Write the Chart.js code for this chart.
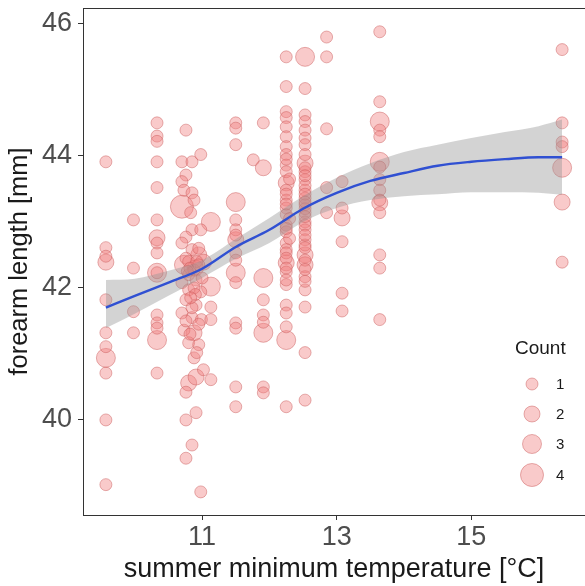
<!DOCTYPE html>
<html><head><meta charset="utf-8">
<script src="https://cdn.jsdelivr.net/npm/chart.js@4.4.1/dist/chart.umd.min.js"></script>
<style>html,body{margin:0;padding:0;background:#fff;}canvas{display:block;}</style>
</head><body>
<canvas id="c" width="585" height="586"></canvas>
<script>
// ---- data ----
const xTicks = [11, 13, 15];
const yTicks = [40, 42, 44, 46];
const counts = [1, 2, 3, 4];

// points with Count = 1  [temperature, forearm]
const count1 = [
  [9.57,43.91],[9.57,42.61],[9.57,42.48],[9.57,41.82],[9.57,41.32],[9.57,41.11],[9.57,40.71],[9.57,40.00],[9.57,39.02],
  [9.98,43.03],[9.98,42.30],[9.98,41.64],[9.98,41.32],
  [10.33,44.50],[10.33,44.30],[10.33,44.22],[10.33,43.91],[10.33,43.52],[10.33,43.03],[10.33,42.68],[10.33,42.53],[10.33,42.23],[10.33,41.59],[10.33,41.47],[10.33,41.39],[10.33,40.71],
  [10.76,44.39],[10.70,43.91],[10.85,43.91],[10.98,44.02],[10.76,43.71],[10.70,43.61],[10.73,43.48],[10.85,43.44],[10.88,43.33],[10.83,43.14],
  [10.85,42.88],[10.98,42.88],[10.76,42.77],[10.70,42.68],[10.85,42.58],[10.88,42.27],[10.70,42.08],[10.80,41.97],[10.98,41.94],[10.76,41.82],
  [10.91,41.74],[10.70,41.62],[10.85,41.55],[10.99,41.52],[10.73,41.36],[10.80,41.17],[10.95,41.14],[10.88,40.94],[11.02,40.76],[11.13,40.61],
  [10.76,40.42],[10.91,40.11],[10.76,40.00],[10.85,39.62],[10.76,39.42],[10.98,38.91],
  [10.80,42.20],[10.91,42.12],[10.76,42.45],[10.85,41.70],[10.76,41.50],[10.95,41.45],[10.82,41.30],[10.92,41.02],[10.95,42.60],[10.80,42.40],[10.88,42.00],[11.00,42.15],
  [10.82,42.30],[10.92,42.40],[10.78,42.25],[10.90,41.90],[10.83,41.85],[10.95,42.35],
  [11.13,41.71],[11.13,41.52],
  [11.50,44.50],[11.50,44.42],[11.50,44.17],[11.50,43.03],[11.50,42.88],[11.50,42.80],[11.50,42.53],[11.50,42.42],[11.50,42.08],[11.50,41.47],[11.50,41.39],[11.50,40.50],[11.50,40.20],
  [11.76,43.94],
  [11.91,44.50],[11.91,41.82],[11.91,41.59],[11.91,41.48],[11.91,40.50],[11.91,40.41],
  [12.25,45.50],[12.25,45.05],[12.25,44.67],[12.25,44.58],[12.25,44.44],[12.25,44.29],[12.25,44.14],[12.25,44.02],[12.25,43.86],[12.25,43.76],
  [12.25,43.48],[12.25,43.33],[12.25,43.21],[12.25,43.11],[12.25,42.95],[12.25,42.85],[12.25,42.68],[12.25,42.58],[12.25,42.53],[12.25,42.24],
  [12.25,42.05],[12.25,41.74],[12.25,41.62],[12.25,41.41],[12.25,40.20],[12.30,43.65],[12.30,42.75],[12.30,43.05],
  [12.25,43.95],[12.25,43.42],[12.25,43.27],[12.25,42.90],[12.25,42.45],[12.25,42.30],[12.25,42.12],
  [12.53,45.02],[12.53,44.62],[12.53,44.52],[12.53,44.39],[12.53,44.27],[12.53,44.17],[12.53,44.02],[12.53,43.76],[12.53,43.64],[12.53,43.48],
  [12.53,43.36],[12.53,43.26],[12.53,43.14],[12.53,43.00],[12.53,42.88],[12.53,42.73],[12.53,42.65],[12.53,42.61],[12.53,42.17],[12.53,41.97],
  [12.53,41.71],[12.53,41.02],[12.53,40.30],[12.53,43.20],[12.53,42.95],[12.53,43.55],
  [12.53,43.82],[12.53,43.70],[12.53,43.42],[12.53,43.30],[12.53,43.08],[12.53,42.80],[12.53,42.42],[12.53,42.28],[12.53,42.10],
  [12.85,45.80],[12.85,45.50],[12.85,44.41],[12.85,43.52],[12.85,43.14],
  [13.08,43.61],[13.08,43.21],[13.08,42.70],[13.08,41.92],[13.08,41.65],
  [13.64,45.88],[13.64,44.82],[13.64,44.39],[13.64,44.29],[13.64,43.83],[13.64,43.64],[13.64,43.48],[13.64,43.33],[13.64,43.14],[13.64,42.50],[13.64,42.30],[13.64,41.52],
  [16.35,45.61],[16.35,44.50],[16.35,44.21],[16.35,44.14],[16.35,42.39]
];
// Count = 2
const count2 = [
  [9.57,42.39],[10.33,42.76],[10.95,42.50],[11.02,42.39],[10.88,41.32],[10.80,40.56],[10.91,40.65],[10.90,42.30],
  [11.50,42.73],[11.91,43.82],[12.25,43.59],[12.25,42.38],[12.53,43.89],[12.53,42.50],[12.53,42.35],
  [13.08,43.06],[13.64,43.29],[16.35,43.30]
];
// Count = 3
const count3 = [
  [9.57,40.94],[10.33,42.23],[10.33,41.21],[10.73,42.35],[11.13,43.00],[11.13,42.02],[11.50,43.30],[11.50,42.23],
  [11.91,42.15],[11.91,41.32],[12.25,41.21],[12.53,45.50],[13.64,44.52],[13.64,43.91],[16.35,43.82]
];
// Count = 4
const count4 = [
  [10.70,43.23]
];

// loess fit with confidence band
const smoothX    = [9.57, 10.0, 10.5, 11.0, 11.5, 12.0, 12.5, 13.0, 13.5, 14.0, 14.5, 15.0, 15.5, 16.0, 16.35];
const smoothY    = [41.70,41.88,42.08,42.29,42.62,42.88,43.20,43.44,43.62,43.74,43.85,43.91,43.95,43.98,43.98];
const smoothLow  = [41.39,41.61,41.88,42.15,42.44,42.68,43.00,43.21,43.33,43.39,43.42,43.45,43.45,43.44,43.41];
const smoothHigh = [42.12,42.14,42.26,42.42,42.74,43.06,43.39,43.67,43.89,44.06,44.17,44.27,44.36,44.45,44.55];

// ---- styles ----
const FONT = "'Liberation Sans', Arial, Helvetica, sans-serif";
const radiusForCount = {1: 6, 2: 8, 3: 9.5, 4: 11.5};
const ptFill = 'rgba(240,128,128,0.42)';
const ptBorder = 'rgba(200,85,85,0.45)';

const toXY = arr => arr.map(([x, y]) => ({x, y}));
const pairs = (xs, ys) => xs.map((x, i) => ({x, y: ys[i]}));
const pointSets = [count1, count2, count3, count4];

const datasets = [
  {type:'line', label:'fit', xAxisID:'x', yAxisID:'y', data: pairs(smoothX, smoothY),
   borderColor:'#3050d2', borderWidth:2.4, pointRadius:0, fill:false, cubicInterpolationMode:'monotone', order:0},
  {type:'line', label:'low', xAxisID:'x', yAxisID:'y', data: pairs(smoothX, smoothLow),
   borderColor:'rgba(0,0,0,0)', borderWidth:0, pointRadius:0, fill:false, cubicInterpolationMode:'monotone', order:1},
  {type:'line', label:'high', xAxisID:'x', yAxisID:'y', data: pairs(smoothX, smoothHigh),
   borderColor:'rgba(0,0,0,0)', borderWidth:0, pointRadius:0, fill:'-1', backgroundColor:'rgba(150,150,150,0.42)', cubicInterpolationMode:'monotone', order:1}
];
pointSets.forEach((set, i) => {
  datasets.push({type:'scatter', label:'Count ' + counts[i], xAxisID:'x', yAxisID:'y', data: toXY(set),
    pointRadius: radiusForCount[counts[i]], pointHoverRadius: radiusForCount[counts[i]],
    backgroundColor: ptFill, borderColor: ptBorder, borderWidth: 1, order: 2 + i});
});

const legendPlugin = {
  id: 'countLegend',
  afterDraw(chart) {
    const ctx = chart.ctx;
    ctx.save();
    ctx.textAlign = 'left';
    ctx.textBaseline = 'middle';
    ctx.fillStyle = '#1a1a1a';
    ctx.font = '19px ' + FONT;
    ctx.fillText('Count', 515, 349);
    const ys = [384, 414, 444, 475];
    counts.forEach((c, i) => {
      const ds = chart.data.datasets[3 + i];
      ctx.beginPath();
      ctx.arc(532, ys[i], radiusForCount[c], 0, Math.PI * 2);
      ctx.fillStyle = ds.backgroundColor; ctx.fill();
      ctx.strokeStyle = ds.borderColor; ctx.lineWidth = 1; ctx.stroke();
      ctx.fillStyle = '#1a1a1a';
      ctx.font = '15px ' + FONT;
      ctx.fillText(String(c), 556, ys[i] + 1);
    });
    ctx.restore();
  }
};

const axisCommon = {
  grid: {display:true, drawOnChartArea:false, drawTicks:true, tickLength:5, color:'#333', tickColor:'#333'},
  border: {display:true, color:'#333', width:1}
};

new Chart(document.getElementById('c'), {
  data: {datasets},
  options: {
    responsive: false,
    animation: false,
    events: [],
    layout: {autoPadding: false, padding: {top: 8, right: -5, bottom: 0, left: 0}},
    plugins: {legend: {display:false}, tooltip: {enabled:false}},
    scales: {
      x: Object.assign({}, axisCommon, {
        type:'linear', position:'bottom', min: 9.23, max: 16.69,
        afterBuildTicks: s => { s.ticks = xTicks.map(v => ({value: v})); },
        afterFit: s => { s.height = 71; s.paddingLeft = 0; s.paddingRight = 0; },
        ticks: {font:{family:FONT, size:27}, color:'#4d4d4d', padding:1},
        title: {display:true, text:'summer minimum temperature [°C]', font:{family:FONT, size:27}, color:'#1a1a1a', padding:{top:0, bottom:0}}
      }),
      x2: {
        type:'linear', position:'top', min: 9.23, max: 16.69,
        ticks: {display:false}, grid: {display:false, drawTicks:false},
        border: {display:true, color:'#333', width:1},
        afterFit: s => { s.height = 0; s.paddingLeft = 0; s.paddingRight = 0; }
      },
      y: Object.assign({}, axisCommon, {
        type:'linear', position:'left', min: 38.56, max: 46.24,
        afterBuildTicks: s => { s.ticks = yTicks.map(v => ({value: v})); },
        afterFit: s => { s.width = 83; s.paddingTop = 0; s.paddingBottom = 0; },
        ticks: {font:{family:FONT, size:27}, color:'#4d4d4d', padding:6},
        title: {display:true, text:'forearm length [mm]', font:{family:FONT, size:25.5}, color:'#1a1a1a', padding:{top:5, bottom:0}}
      })
    }
  },
  plugins: [legendPlugin]
});
</script>
</body></html>
